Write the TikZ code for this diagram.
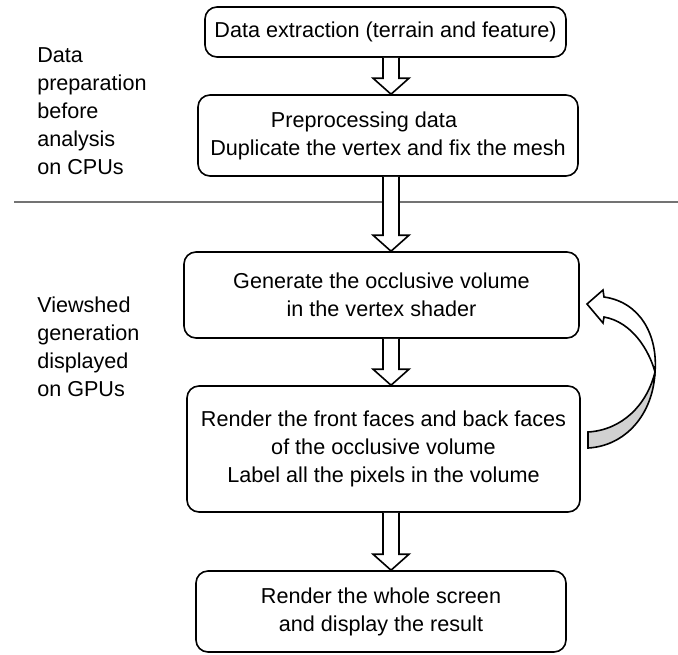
\documentclass[tikz,border=0pt]{standalone}
\usepackage{fontspec}
\setmainfont{Liberation Sans}
\usetikzlibrary{calc}
\begin{document}
\begin{tikzpicture}[x=0.75pt,y=-0.75pt,
  every node/.style={font=\fontsize{16.2}{21}\selectfont},
  box/.style={draw,line width=1.2pt,rounded corners=9pt,align=center,inner sep=0pt},
  hollow/.style={draw,fill=white,line width=1.2pt}]
  \useasboundingbox (0,0) rectangle (678,654);
  % separator between the two stages
  \draw[black!55,line width=1pt] (14,202) -- (678,202);
  % stage labels
  \node[align=left,anchor=north west,inner sep=0pt] (cpu) at (37,47)
    {Data\\preparation\\before\\analysis\\on CPUs};
  \node[align=left,anchor=north west,inner sep=0pt] (gpu) at (37,297)
    {Viewshed\\generation\\displayed\\on GPUs};
  % steps
  \node[box,minimum width=270.75pt,minimum height=37.5pt] (b1) at (385.5,32)
    {Data extraction (terrain and feature)};
  \node[box,minimum width=285pt,minimum height=60.75pt] (b2) at (388,135.5)
    {Preprocessing data\hspace*{36pt}\\Duplicate the vertex and fix the mesh};
  \node[box,minimum width=296.25pt,minimum height=64.5pt] (b3) at (381.5,295)
    {Generate the occlusive volume\\in the vertex shader};
  \node[box,minimum width=294.75pt,minimum height=94.5pt] (b4) at (383.5,449)
    {Render the front faces and back faces\\of the occlusive volume\\Label all the pixels in the volume};
  \node[box,minimum width=277.5pt,minimum height=60.75pt] (b5) at (381,611.5)
    {Render the whole screen\\and display the result};
  % block arrows
  \coordinate (ax) at (391,0);
  \foreach \a/\b in {b1/b2,b2/b3,b3/b4,b4/b5}
    \draw[hollow] ($(\a.south -| ax)+(-8,0)$) -- ($(\b.north -| ax)+(-8,-16)$)
      -- ++(-10,0) -- (\b.north -| ax) -- ++(18,-16) -- ++(-10,0)
      -- ($(\a.south -| ax)+(8,0)$);
  % loop back from b4 to b3
  \coordinate (twist) at (655,372);
  \draw[line width=1.2pt,fill=black!18] (twist)
    .. controls (653,415) and (625,446) .. (588,448) -- (588,432)
    .. controls (622,430) and (647,405) .. (twist) -- cycle;
  \draw[line width=1.2pt,fill=white] (604,297)
    .. controls (640,302) and (658,335) .. (twist)
    .. controls (649,350) and (632,322) .. (604,317)
    -- (603,323) -- (587,304) -- (603,290) -- cycle;
\end{tikzpicture}
\end{document}
